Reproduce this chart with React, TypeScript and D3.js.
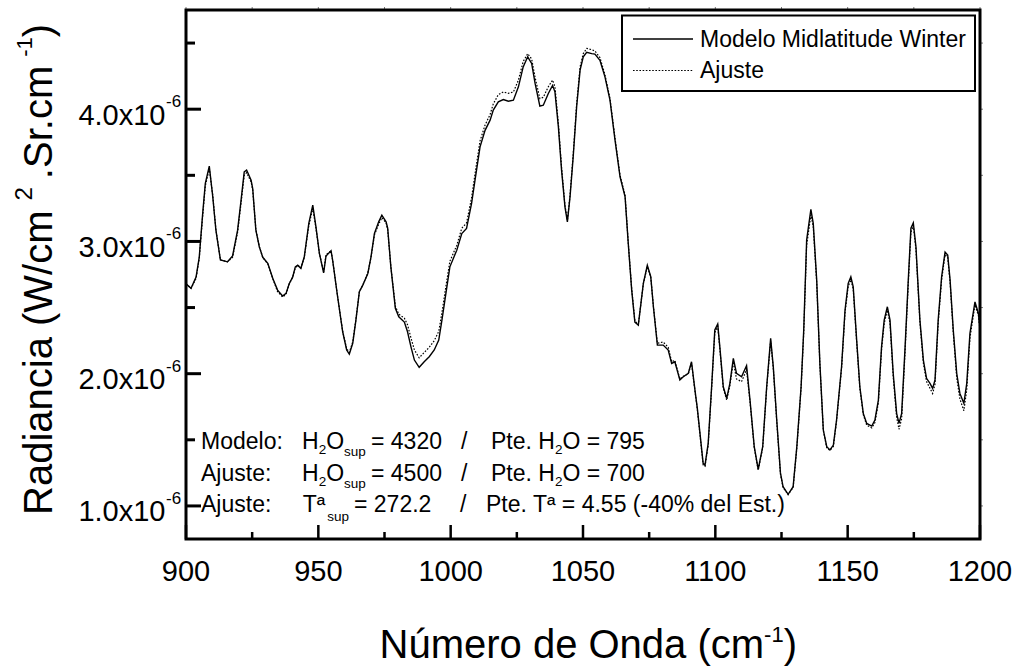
import React from 'react';
import * as d3 from 'd3';

const wavenumber = [
  900, 901.9, 903.8, 905, 906.3, 907.3, 908.8, 910.1, 911.3, 913, 915.7, 917.6, 919.5, 920.8, 922, 922.9,
  924.6, 925.2, 926.4, 927.7, 929, 930.9, 932.8, 934.6, 936.5, 937.8, 939, 940.3, 941.3, 942.2, 943.4, 944.7,
  946.4, 947.9, 949.1, 950.4, 952, 952.9, 954.8, 955.4, 957.3, 959.2, 960.7, 961.7, 963, 964.2, 965.5, 966.8,
  968.7, 969.9, 971.2, 972.8, 974, 975.6, 976.2, 977.4, 979.1, 980.4, 982.5, 983.7, 985, 986.3, 988.1, 990,
  991.9, 993.8, 995.5, 996.7, 998.2, 999.7, 1002.3, 1004.2, 1006, 1007.9, 1009.2, 1011.1, 1013, 1014.9, 1016.1, 1018,
  1019.9, 1021.8, 1023.7, 1025.6, 1027.4, 1029.1, 1030.6, 1031.9, 1033.7, 1035, 1036.9, 1038.5, 1039.4, 1040.7, 1041.9, 1043.2,
  1044.1, 1045.1, 1046.3, 1047.6, 1048.9, 1050.1, 1051.4, 1053.3, 1054.5, 1056.4, 1058.3, 1060.2, 1062.1, 1064, 1065.9, 1067.1,
  1068.4, 1069.6, 1070.9, 1072.8, 1074.3, 1075.6, 1076.6, 1078.1, 1080.3, 1082.2, 1083.5, 1084.7, 1086.6, 1087.9, 1089.8, 1091,
  1092.3, 1093.2, 1094.2, 1095.4, 1096.1, 1097.3, 1098.6, 1099.8, 1100.9, 1101.7, 1103, 1104.3, 1105.5, 1106.8, 1108, 1109.9,
  1111.8, 1113.1, 1114.7, 1116.2, 1117.9, 1119.4, 1120.9, 1121.9, 1123.2, 1124.6, 1125.6, 1127.5, 1129.4, 1130.8, 1132.4, 1133.4,
  1134.5, 1136.1, 1137, 1138.3, 1139.5, 1140.8, 1142.1, 1143.3, 1144.6, 1145.8, 1147.7, 1149, 1150.2, 1151.2, 1152.1, 1153.4,
  1154.6, 1155.9, 1157.2, 1159.1, 1160.3, 1161.6, 1162.8, 1163.8, 1165, 1166, 1167.2, 1168.5, 1169.4, 1170.4, 1171.7, 1172.9,
  1173.9, 1174.8, 1175.8, 1177.3, 1178.6, 1179.8, 1181.1, 1182.1, 1183, 1184.2, 1185.5, 1186.8, 1187.8, 1188.7, 1189.9, 1191.2,
  1192.4, 1193.9, 1195, 1196.2, 1198.1, 1199.4, 1200,
];

// Radiance, units of 1e-6 W/cm2.Sr.cm-1
const modelo = [
  2.68, 2.645, 2.73, 2.88, 3.21, 3.44, 3.57, 3.34, 3.085, 2.86, 2.846, 2.89, 3.085, 3.31, 3.526, 3.54,
  3.463, 3.4, 3.085, 2.96, 2.88, 2.834, 2.72, 2.632, 2.587, 2.607, 2.68, 2.73, 2.808, 2.82, 2.796, 2.884,
  3.136, 3.274, 3.11, 2.91, 2.763, 2.89, 2.93, 2.859, 2.58, 2.317, 2.179, 2.148, 2.23, 2.405, 2.62, 2.67,
  2.758, 2.884, 3.06, 3.148, 3.199, 3.148, 3.1, 2.808, 2.494, 2.43, 2.39, 2.317, 2.203, 2.103, 2.048, 2.09,
  2.128, 2.179, 2.254, 2.405, 2.607, 2.808, 2.934, 3.06, 3.098, 3.287, 3.464, 3.715, 3.84, 3.917, 3.993, 4.055,
  4.073, 4.06, 4.068, 4.169, 4.32, 4.396, 4.346, 4.195, 4.023, 4.03, 4.119, 4.18, 4.131, 3.866, 3.539, 3.26,
  3.148, 3.337, 3.64, 4.018, 4.295, 4.396, 4.43, 4.42, 4.416, 4.37, 4.244, 4.068, 3.766, 3.489, 3.337, 2.985,
  2.632, 2.39, 2.367, 2.683, 2.82, 2.733, 2.506, 2.216, 2.216, 2.179, 2.078, 2.09, 1.952, 1.977, 2.003, 2.09,
  1.876, 1.738, 1.549, 1.322, 1.309, 1.473, 1.901, 2.33, 2.375, 2.203, 1.901, 1.813, 1.927, 2.116, 2.003, 1.977,
  2.06, 1.8, 1.448, 1.277, 1.448, 1.901, 2.267, 2.052, 1.65, 1.25, 1.145, 1.088, 1.145, 1.45, 1.9, 2.33,
  3.01, 3.242, 3.136, 2.708, 2.078, 1.574, 1.448, 1.423, 1.46, 1.65, 2.052, 2.48, 2.683, 2.733, 2.657, 2.254,
  1.901, 1.7, 1.624, 1.604, 1.65, 1.8, 2.203, 2.405, 2.506, 2.405, 2.003, 1.7, 1.624, 1.7, 2.203, 2.708,
  3.1, 3.14, 2.96, 2.405, 2.103, 1.965, 1.927, 1.889, 1.952, 2.405, 2.733, 2.92, 2.897, 2.708, 2.33, 2.003,
  1.851, 1.776, 1.927, 2.305, 2.543, 2.455, 2.35,
];

const ajuste = [
  2.68, 2.645, 2.72, 2.87, 3.19, 3.42, 3.55, 3.35, 3.09, 2.86, 2.846, 2.88, 3.07, 3.29, 3.5, 3.52,
  3.45, 3.39, 3.09, 2.96, 2.88, 2.83, 2.72, 2.62, 2.58, 2.6, 2.68, 2.73, 2.8, 2.82, 2.8, 2.88,
  3.12, 3.25, 3.1, 2.91, 2.77, 2.9, 2.93, 2.86, 2.58, 2.32, 2.19, 2.16, 2.24, 2.41, 2.62, 2.67,
  2.76, 2.88, 3.05, 3.13, 3.18, 3.14, 3.09, 2.81, 2.51, 2.45, 2.42, 2.37, 2.27, 2.18, 2.12, 2.16,
  2.2, 2.25, 2.32, 2.46, 2.66, 2.85, 2.97, 3.1, 3.14, 3.33, 3.51, 3.76, 3.88, 3.96, 4.04, 4.11,
  4.13, 4.12, 4.13, 4.22, 4.36, 4.42, 4.38, 4.24, 4.08, 4.09, 4.17, 4.22, 4.17, 3.89, 3.56, 3.27,
  3.16, 3.35, 3.66, 4.04, 4.32, 4.42, 4.46, 4.45, 4.44, 4.39, 4.26, 4.08, 3.78, 3.5, 3.35, 2.99,
  2.64, 2.4, 2.37, 2.68, 2.81, 2.73, 2.51, 2.23, 2.24, 2.2, 2.09, 2.1, 1.96, 1.98, 2.0, 2.08,
  1.87, 1.73, 1.54, 1.31, 1.3, 1.46, 1.89, 2.31, 2.36, 2.19, 1.89, 1.8, 1.91, 2.09, 1.96, 1.94,
  2.03, 1.79, 1.44, 1.27, 1.44, 1.89, 2.25, 2.04, 1.64, 1.24, 1.14, 1.085, 1.14, 1.44, 1.89, 2.31,
  2.97, 3.2, 3.11, 2.69, 2.07, 1.57, 1.44, 1.42, 1.45, 1.64, 2.04, 2.46, 2.66, 2.71, 2.64, 2.24,
  1.89, 1.69, 1.61, 1.59, 1.63, 1.78, 2.18, 2.38, 2.48, 2.38, 1.98, 1.67, 1.58, 1.66, 2.17, 2.68,
  3.07, 3.12, 2.94, 2.39, 2.08, 1.94, 1.89, 1.85, 1.92, 2.38, 2.71, 2.9, 2.88, 2.69, 2.31, 1.97,
  1.81, 1.72, 1.88, 2.27, 2.52, 2.44, 2.33,
];

const xTicksMajor = [900, 950, 1000, 1050, 1100, 1150, 1200];
const xTicksMinor = [925, 975, 1025, 1075, 1125, 1175];
const yTicksMajor = [1, 2, 3, 4];
const yTickLabels = ['1.0x10', '2.0x10', '3.0x10', '4.0x10'];
const yTickExponent = '-6';
const yTicksMinor = [1.5, 2.5, 3.5, 4.5];
const legendLabels = ['Modelo Midlatitude Winter', 'Ajuste'];

const FONT = '"Liberation Sans", Arial, Helvetica, sans-serif';

export default function App() {
  const W = 1016;
  const H = 667;
  const L = 186, R = 980, T = 10, B = 539;
  const x = d3.scaleLinear().domain([900, 1200]).range([L, R]);
  const y = d3.scaleLinear().domain([0.75, 4.75]).range([B, T]);

  const lineGen = d3
    .line<number>()
    .x((_, i) => x(wavenumber[i]))
    .y((d) => y(d))
    .curve(d3.curveLinear);

  const allY = [...yTicksMajor, ...yTicksMinor];

  const sub = 13.5;
  const fs = 23;

  return (
    <svg
      width={W}
      height={H}
      style={{ position: 'absolute', left: 0, top: 0, background: '#fff' }}
      fontFamily={FONT}
    >
      <rect x={0} y={0} width={W} height={H} fill="#fff" />
      <defs>
        <clipPath id="plotclip">
          <rect x={L} y={T} width={R - L} height={B - T} />
        </clipPath>
      </defs>

      {/* curves */}
      <g clipPath="url(#plotclip)">
        <path d={lineGen(ajuste) || ''} fill="none" stroke="#000" strokeWidth={1.2} strokeDasharray="1.6,1.6" />
        <path d={lineGen(modelo) || ''} fill="none" stroke="#000" strokeWidth={1.4} />
      </g>

      {/* ticks left (inward) */}
      {yTicksMajor.map((v) => (
        <line key={'ly' + v} x1={L} x2={L + 15} y1={y(v)} y2={y(v)} stroke="#000" strokeWidth={3} />
      ))}
      {yTicksMinor.map((v) => (
        <line key={'lym' + v} x1={L} x2={L + 9} y1={y(v)} y2={y(v)} stroke="#000" strokeWidth={3} />
      ))}
      {/* ticks right (tiny outward) */}
      {allY.map((v) => (
        <line key={'ry' + v} x1={R} x2={R + 3} y1={y(v)} y2={y(v)} stroke="#777" strokeWidth={1} />
      ))}
      {/* ticks bottom (inward) */}
      {xTicksMajor.map((v) => (
        <line key={'bx' + v} x1={x(v)} x2={x(v)} y1={B} y2={B - 14} stroke="#000" strokeWidth={2.5} />
      ))}
      {xTicksMinor.map((v) => (
        <line key={'bxm' + v} x1={x(v)} x2={x(v)} y1={B} y2={B - 7} stroke="#000" strokeWidth={2.5} />
      ))}
      {/* ticks top (tiny outward) */}
      {[...xTicksMajor, ...xTicksMinor].map((v) => (
        <line key={'tx' + v} x1={x(v)} x2={x(v)} y1={T} y2={T - 3} stroke="#777" strokeWidth={1} />
      ))}

      {/* frame */}
      <rect x={L} y={T} width={R - L} height={B - T} fill="none" stroke="#000" strokeWidth={3} />

      {/* y tick labels */}
      {yTicksMajor.map((v, i) => (
        <g key={'yl' + v}>
          <text x={165.5} y={y(v) + 15.5} fontSize={29} textAnchor="end" fill="#000">
            {yTickLabels[i]}
          </text>
          <text x={166} y={y(v) - 2} fontSize={17} textAnchor="start" fill="#000">
            {yTickExponent}
          </text>
        </g>
      ))}

      {/* x tick labels */}
      {xTicksMajor.map((v) => (
        <text key={'xl' + v} x={x(v)} y={581} fontSize={29} textAnchor="middle" fill="#000">
          {v}
        </text>
      ))}

      {/* x title */}
      <text x={379.5} y={658} fontSize={40} fill="#000">
        Número de Onda (cm
        <tspan fontSize={22} dy={-16}>-1</tspan>
        <tspan dy={16}>)</tspan>
      </text>

      {/* y title */}
      <text transform="translate(52,515) rotate(-90)" x={0} y={0} fontSize={40} fill="#000">
        Radiancia (W/cm
        <tspan fontSize={24} dx={10} dy={-20}>2</tspan>
        <tspan dx={8} dy={20}>.Sr.cm</tspan>
        <tspan fontSize={22} dx={9} dy={-20}>-1</tspan>
        <tspan dy={20}>)</tspan>
      </text>

      {/* legend */}
      <rect x={622} y={15.5} width={353} height={75.5} fill="#fff" stroke="#000" strokeWidth={2} />
      <line x1={633} x2={693} y1={39} y2={39} stroke="#000" strokeWidth={1.4} />
      <line x1={633} x2={693} y1={70.5} y2={70.5} stroke="#000" strokeWidth={1.2} strokeDasharray="1.6,1.6" />
      <text x={700} y={46.7} fontSize={23} fill="#000">{legendLabels[0]}</text>
      <text x={700} y={78.3} fontSize={23} fill="#000">{legendLabels[1]}</text>

      {/* annotations */}
      <g fontSize={fs} fill="#000">
        <text x={201} y={449.3}>Modelo:</text>
        <text x={302} y={449.3}>
          H<tspan fontSize={sub} dy={5}>2</tspan>
          <tspan dy={-5}>O</tspan>
          <tspan fontSize={sub} dy={7}>sup</tspan>
        </text>
        <text x={371} y={449.3}>= 4320</text>
        <text x={461} y={449.3}>/</text>
        <text x={491} y={449.3}>
          Pte. H<tspan fontSize={sub} dy={5}>2</tspan>
          <tspan dy={-5}>O = 795</tspan>
        </text>

        <text x={201} y={481}>Ajuste:</text>
        <text x={302} y={481}>
          H<tspan fontSize={sub} dy={5}>2</tspan>
          <tspan dy={-5}>O</tspan>
          <tspan fontSize={sub} dy={7}>sup</tspan>
        </text>
        <text x={371} y={481}>= 4500</text>
        <text x={461} y={481}>/</text>
        <text x={491} y={481}>
          Pte. H<tspan fontSize={sub} dy={5}>2</tspan>
          <tspan dy={-5}>O = 700</tspan>
        </text>

        <text x={201} y={511.7}>Ajuste:</text>
        <text x={302.7} y={511.7}>
          Tª<tspan fontSize={sub} dx={2} dy={9}>sup</tspan>
        </text>
        <text x={354} y={511.7}>= 272.2</text>
        <text x={460} y={511.7}>/</text>
        <text x={486} y={511.7}>Pte. Tª = 4.55 (-40% del Est.)</text>
      </g>
    </svg>
  );
}
